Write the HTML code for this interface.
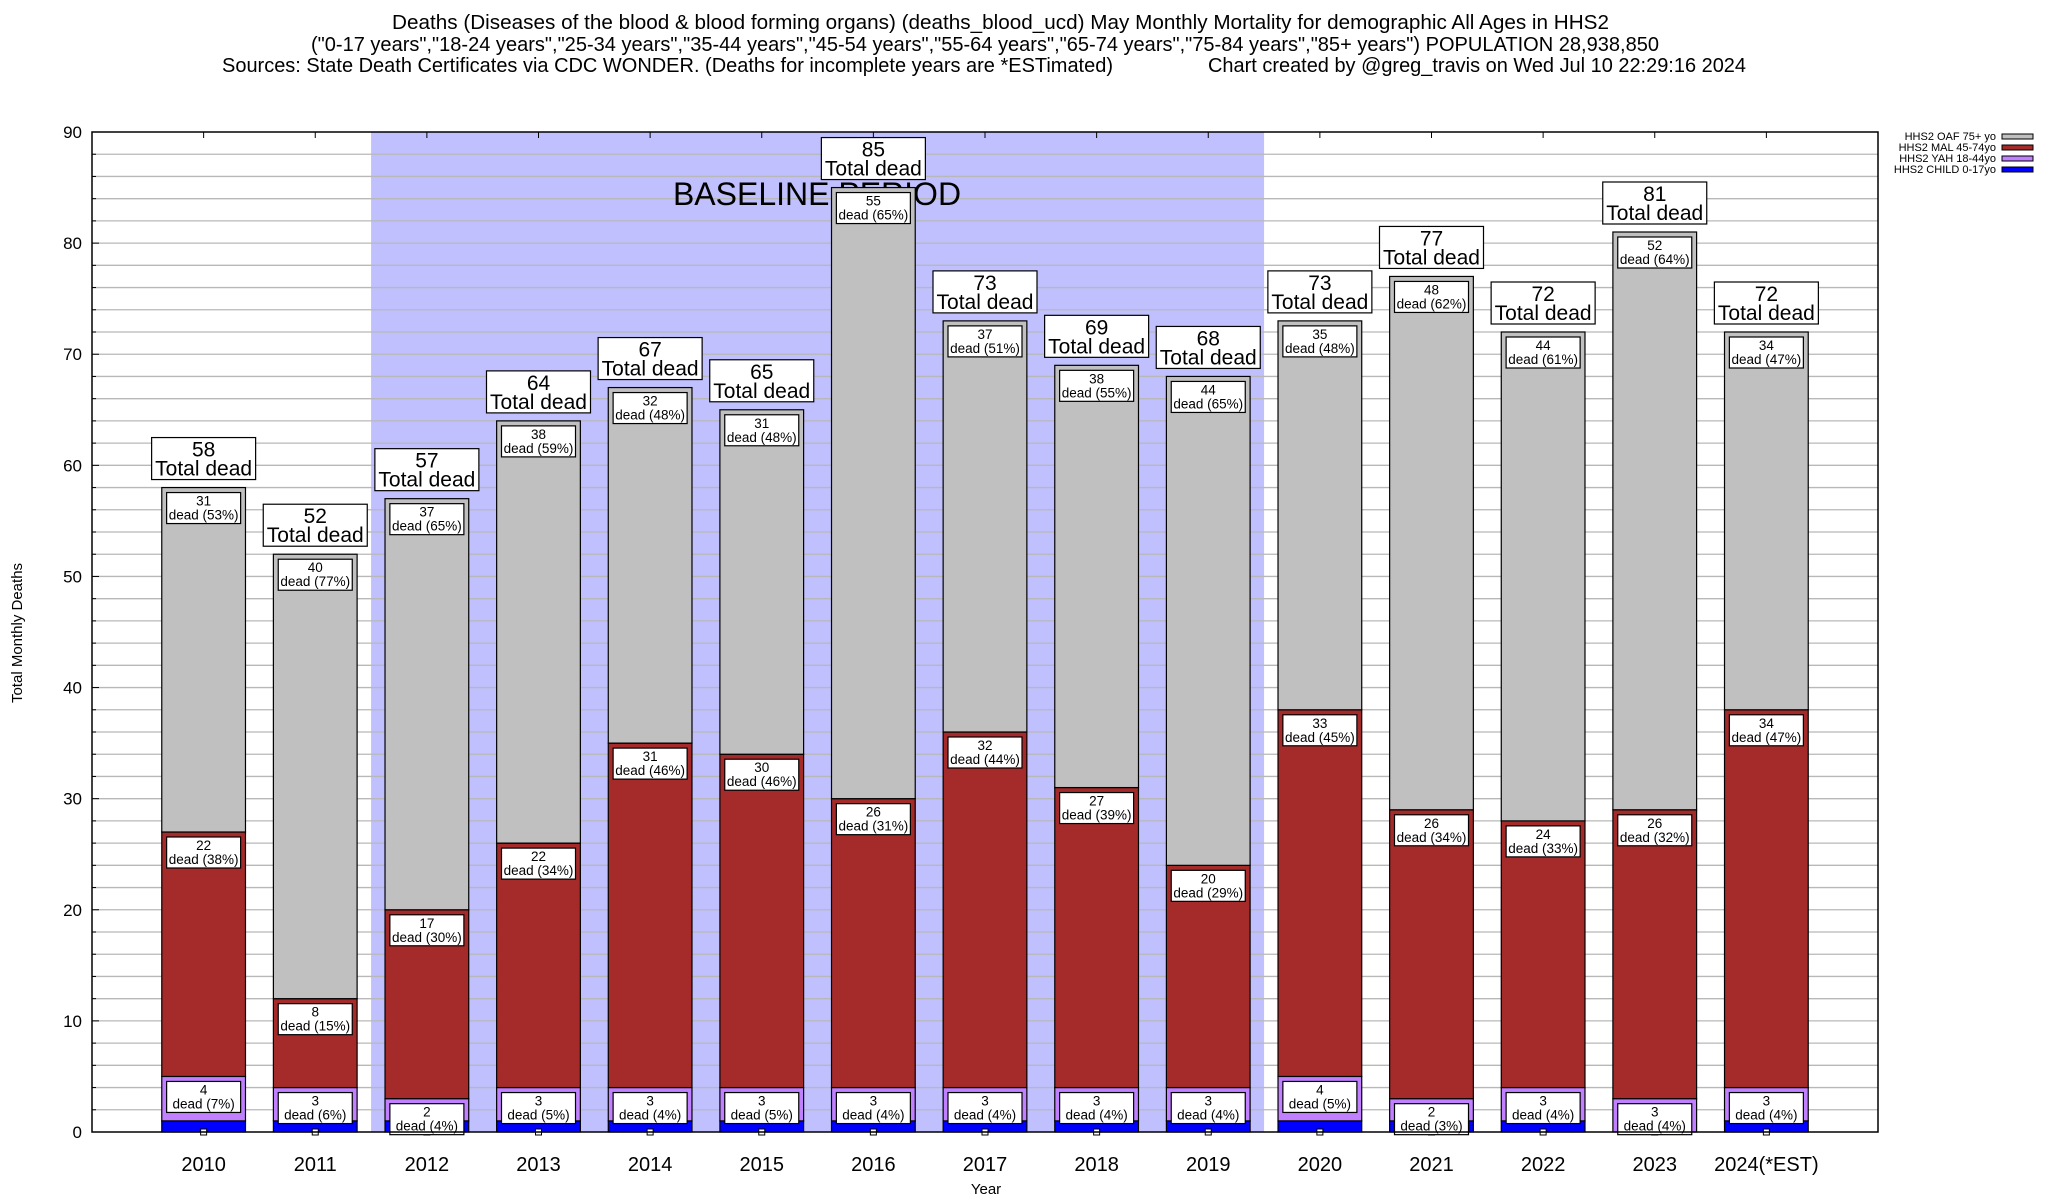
<!DOCTYPE html>
<html><head><meta charset="utf-8">
<style>
body{margin:0;background:#fff;}
svg{display:block;font-family:"Liberation Sans",sans-serif;}
</style></head>
<body>
<svg id="chart" width="2048" height="1200" viewBox="0 0 2048 1200" xmlns="http://www.w3.org/2000/svg">
<rect width="2048" height="1200" fill="#fff"/>
<g font-size="20.5" fill="#000">
<text x="392" y="29" textLength="1217" lengthAdjust="spacingAndGlyphs">Deaths (Diseases of the blood &amp; blood forming organs) (deaths_blood_ucd) May Monthly Mortality for demographic All Ages in HHS2</text>
<text x="311" y="51" textLength="1348" lengthAdjust="spacingAndGlyphs">("0-17 years","18-24 years","25-34 years","35-44 years","45-54 years","55-64 years","65-74 years","75-84 years","85+ years") POPULATION 28,938,850</text>
<text x="222" y="72" textLength="891" lengthAdjust="spacingAndGlyphs">Sources: State Death Certificates via CDC WONDER. (Deaths for incomplete years are *ESTimated)</text>
<text x="1208" y="72" textLength="538" lengthAdjust="spacingAndGlyphs">Chart created by @greg_travis on Wed Jul 10 22:29:16 2024</text>
</g>
<g id="plot"></g>
<text transform="translate(22,633) rotate(-90)" text-anchor="middle" font-size="15">Total Monthly Deaths</text>
<text x="986" y="1194" text-anchor="middle" font-size="15">Year</text>
<g font-size="11" text-anchor="end">
<text x="1996" y="140">HHS2 OAF 75+ yo</text><rect x="2002" y="134" width="31" height="5" fill="#c0c0c0" stroke="#000"/>
<text x="1996" y="151">HHS2 MAL 45-74yo</text><rect x="2002" y="145" width="31" height="5" fill="#a52a2a" stroke="#000"/>
<text x="1996" y="162">HHS2 YAH 18-44yo</text><rect x="2002" y="156" width="31" height="5" fill="#c080ff" stroke="#000"/>
<text x="1996" y="173">HHS2 CHILD 0-17yo</text><rect x="2002" y="167" width="31" height="5" fill="#0000ff" stroke="#000"/>
</g>
</svg>
<script>
const years = ["2010","2011","2012","2013","2014","2015","2016","2017","2018","2019","2020","2021","2022","2023","2024(*EST)"];
const child = [1,1,1,1,1,1,1,1,1,1,1,1,1,0,1];
const yah = [4,3,2,3,3,3,3,3,3,3,4,2,3,3,3];
const mal = [22,8,17,22,31,30,26,32,27,20,33,26,24,26,34];
const oaf = [31,40,37,38,32,31,55,37,38,44,35,48,44,52,34];
const yTicks = [0,10,20,30,40,50,60,70,80,90];
const baselineStart = 2, baselineEnd = 9;

const NS = "http://www.w3.org/2000/svg";
const plot = document.getElementById('plot');
const L = 92, R = 1878, T = 132, B = 1132, YMAX = 90;
const slot = (R - L) / (years.length + 1);
const xc = i => L + (i + 1) * slot;
const y = v => B - (v / YMAX) * (B - T);
const bw = slot * 0.75;
function mk(tag, attrs, parent) {
  const e = document.createElementNS(NS, tag);
  for (const k in attrs) e.setAttribute(k, attrs[k]);
  (parent || plot).appendChild(e);
  return e;
}
const bs = mk('rect', {x: xc(baselineStart) - slot / 2, y: T, width: (baselineEnd - baselineStart + 1) * slot, height: B - T, fill: '#c0c0ff'});


for (let v = 2; v < YMAX; v += 2) {
  const g = mk('line', {x1: L, x2: R, y1: y(v), y2: y(v), stroke: '#b8b8b8', 'stroke-width': 1.3});
  
  
  mk('line', {x1: L, x2: L + (v % 10 === 0 ? 7 : 4), y1: y(v), y2: y(v), stroke: '#000'});
}
const bt = mk('text', {x: 817, y: 205, 'font-size': 32, 'text-anchor': 'middle'});
bt.textContent = 'BASELINE PERIOD';


yTicks.forEach(v => {
  const t = mk('text', {x: 82, y: y(v) + 6, 'font-size': 17, 'text-anchor': 'end'});
  t.textContent = v;
  
  
});
const colors = ['#0000ff', '#c080ff', '#a52a2a', '#c0c0c0'];
const names = ['child', 'yah', 'mal', 'oaf'];
const labels = [];
years.forEach((yr, i) => {
  const vals = [child[i], yah[i], mal[i], oaf[i]];
  const total = vals.reduce((a, b) => a + b, 0);
  let cum = 0;
  vals.forEach((v, s) => {
    const r = mk('rect', {x: xc(i) - bw / 2, y: y(cum + v), width: bw, height: y(cum) - y(cum + v), fill: colors[s], stroke: '#000', 'stroke-width': 1.2});
    
    
    cum += v;
    if (s > 0) labels.push({i, v, top: y(cum), pct: Math.round(v / total * 100)});
  });
  mk('line', {x1: xc(i), x2: xc(i), y1: T, y2: T + 6, stroke: '#000'});
  mk('rect', {x: xc(i) - 3, y: B - 3, width: 6, height: 6, fill: '#fff', stroke: '#000'});
  const xl = mk('text', {x: xc(i), y: 1171, 'font-size': 20, 'text-anchor': 'middle'});
  xl.textContent = yr;
  
  
  const tb = y(total) - 8;
  const tg = mk('g', {});
  
  
  mk('rect', {x: xc(i) - 52, y: tb - 42, width: 104, height: 42, fill: '#fff', stroke: '#000', 'stroke-width': 1.2}, tg);
  const t1 = mk('text', {x: xc(i), y: tb - 23, 'font-size': 21, 'text-anchor': 'middle'}, tg);
  t1.textContent = total;
  const t2 = mk('text', {x: xc(i), y: tb - 4, 'font-size': 21, 'text-anchor': 'middle'}, tg);
  t2.textContent = 'Total dead';
});
labels.forEach(l => {
  const g = mk('g', {});
  
  
  const top = l.top + 5;
  mk('rect', {x: xc(l.i) - 37, y: top, width: 74, height: 31, fill: '#fff', stroke: '#000', 'stroke-width': 1.2}, g);
  const a = mk('text', {x: xc(l.i), y: top + 13, 'font-size': 13.5, 'text-anchor': 'middle'}, g);
  a.textContent = l.v;
  const b = mk('text', {x: xc(l.i), y: top + 27, 'font-size': 13.5, 'text-anchor': 'middle'}, g);
  b.textContent = 'dead (' + l.pct + '%)';
});
const fr = mk('rect', {x: L, y: T, width: R - L, height: B - T, fill: 'none', stroke: '#000', 'stroke-width': 1.5});


</script>
</body></html>
